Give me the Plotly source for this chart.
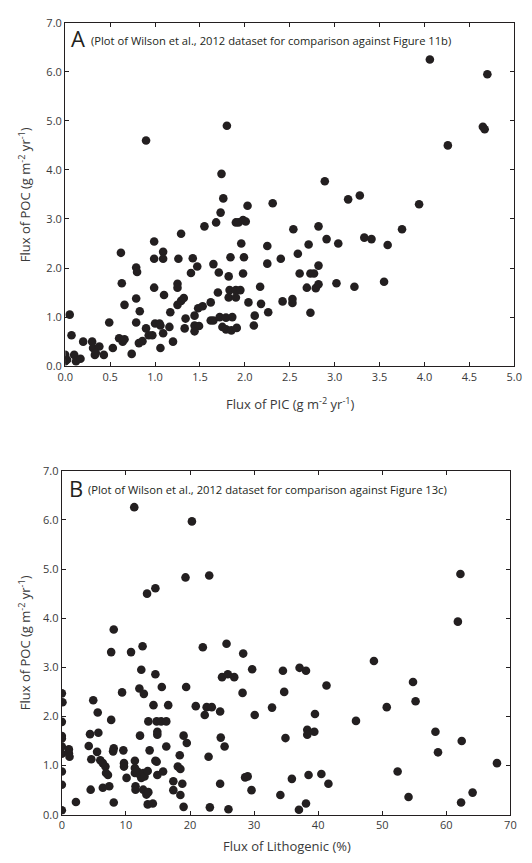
import plotly.graph_objects as go

# ---- Panel A data: Flux of PIC vs Flux of POC ----
pic_x = [0.05, 0.07, 0.0, 0.0, 0.02, 0.10, 0.12, 0.17, 0.20, 0.30, 0.31, 0.38, 0.33, 0.34, 0.43,
         0.53, 0.49, 0.74, 0.62, 0.63, 0.66, 0.60, 0.64, 0.66, 0.79, 0.80, 0.79, 0.83, 0.79, 0.82,
         0.86, 0.90, 0.93, 0.97, 0.90, 0.99, 0.99, 0.99, 1.00, 1.05, 1.06, 1.09, 1.09, 1.10, 1.06,
         1.09, 1.16, 1.17, 1.20, 1.29, 1.26, 1.25, 1.25, 1.25, 1.29, 1.32, 1.34, 1.33, 1.42, 1.47,
         1.40, 1.44, 1.48, 1.53, 1.44, 1.49, 1.44, 1.55, 1.62, 1.62, 1.65, 1.65, 1.68, 1.73, 1.74,
         1.76, 1.71, 1.70, 1.80, 1.72, 1.75, 1.79, 1.79, 1.82, 1.83, 1.82, 1.84, 1.86, 1.85, 1.90,
         1.90, 1.91, 1.90, 1.93, 1.95, 1.96, 1.98, 2.01, 1.99, 1.98, 2.03, 2.04, 2.11, 2.10, 2.17,
         2.18, 2.25, 2.25, 2.26, 2.31, 2.40, 2.42, 2.54, 2.53, 2.53, 2.59, 2.61, 2.71, 2.69, 2.73,
         2.77, 2.73, 2.82, 2.82, 2.79, 2.82, 2.89, 2.91, 3.04, 3.02, 3.15, 3.22, 3.28, 3.33, 3.41,
         3.55, 3.59, 3.75, 3.94, 4.06, 4.26, 4.65, 4.67, 4.70]
poc_a = [1.05, 0.63, 0.23, 0.10, 0.13, 0.23, 0.10, 0.15, 0.50, 0.50, 0.37, 0.40, 0.23, 0.27, 0.23,
         0.37, 0.89, 0.25, 2.31, 1.69, 1.25, 0.57, 0.50, 0.55, 2.01, 1.92, 1.38, 1.12, 0.89, 0.47,
         0.51, 0.77, 0.63, 0.63, 4.60, 2.54, 2.19, 1.60, 0.87, 0.87, 0.83, 2.33, 2.19, 1.45, 0.37,
         0.67, 0.80, 1.10, 0.50, 2.70, 2.19, 1.68, 1.60, 1.25, 1.33, 1.39, 0.97, 0.77, 2.20, 2.03,
         1.90, 1.03, 1.18, 1.22, 0.83, 0.82, 0.71, 2.85, 1.30, 0.93, 0.93, 2.08, 2.93, 3.13, 3.92,
         3.42, 1.91, 1.50, 4.90, 1.00, 0.80, 0.99, 0.75, 1.83, 1.55, 1.40, 2.22, 1.00, 0.73, 1.55,
         1.40, 0.78, 2.93, 2.93, 1.55, 2.50, 2.98, 2.95, 2.22, 1.89, 3.27, 1.30, 1.03, 0.83, 1.62,
         1.27, 2.45, 2.09, 1.10, 3.32, 2.19, 1.32, 2.79, 1.37, 1.29, 2.29, 1.89, 2.48, 1.60, 1.89,
         1.89, 1.09, 2.85, 2.05, 1.59, 1.67, 3.77, 2.59, 2.50, 1.69, 3.40, 1.62, 3.48, 2.62, 2.59,
         1.72, 2.47, 2.79, 3.30, 6.25, 4.50, 4.88, 4.83, 5.95]

# ---- Panel B data: Flux of Lithogenic (%) vs Flux of POC ----
litho_x = [0.0, 0.1, 0.0, 0.0, 0.0, 0.0, 0.0, 0.0, 0.0, 0.0, 1.1, 1.1, 1.2, 2.2, 4.2, 4.4, 4.6, 4.5,
           4.9, 5.6, 5.7, 5.5, 6.0, 6.4, 6.8, 6.9, 7.2, 6.4, 7.4, 7.7, 8.1, 7.7, 8.1, 8.0, 8.1, 9.4,
           9.6, 9.7, 9.7, 10.1, 10.8, 11.3, 11.4, 11.4, 11.4, 11.5, 11.5, 12.1, 12.2, 11.8, 12.2,
           12.4, 12.6, 12.4, 12.8, 12.7, 12.9, 12.7, 13.2, 13.3, 13.4, 13.5, 13.4, 13.5, 13.7, 14.6,
           14.6, 14.3, 14.2, 14.6, 14.8, 14.8, 14.9, 14.9, 14.9, 15.6, 15.5, 15.8, 16.3, 16.3, 16.6,
           17.4, 17.4, 18.1, 18.4, 18.5, 18.5, 18.8, 19.0, 19.0, 19.5, 19.3, 19.4, 20.3, 20.9, 22.0,
           22.3, 22.6, 23.4, 22.9, 23.0, 23.1, 24.7, 24.8, 24.7, 25.0, 25.4, 25.7, 25.9, 26.0, 26.9,
           28.2, 28.3, 28.6, 29.0, 29.7, 29.6, 30.1, 32.8, 34.1, 34.5, 34.7, 34.9, 35.9, 37.0, 37.1,
           38.1, 38.1, 38.3, 38.3, 38.5, 39.4, 39.5, 40.5, 41.3, 41.6, 45.9, 48.7, 50.7, 52.4, 54.1,
           54.8, 55.2, 58.3, 58.7, 61.8, 62.2, 62.4, 62.3, 64.1, 67.9]
poc_b = [2.47, 2.29, 1.89, 1.60, 1.55, 1.39, 1.24, 0.88, 0.61, 0.09, 1.33, 1.25, 1.18, 0.26, 1.40,
         1.64, 1.13, 0.51, 2.33, 2.08, 1.67, 1.28, 1.11, 1.05, 0.98, 0.85, 0.81, 0.55, 0.58, 3.31,
         3.77, 1.93, 1.35, 1.29, 0.25, 2.49, 1.31, 1.05, 0.98, 0.75, 3.31, 6.26, 1.10, 0.95, 0.85,
         0.58, 0.51, 2.57, 1.61, 0.88, 0.81, 0.75, 3.43, 2.95, 2.46, 0.85, 0.78, 0.51, 0.41, 4.50,
         0.89, 0.46, 0.21, 1.90, 1.31, 4.61, 2.86, 2.23, 0.23, 1.10, 1.08, 1.90, 1.69, 1.63, 0.81,
         2.60, 1.90, 0.88, 1.90, 1.39, 2.23, 0.68, 0.50, 0.98, 1.21, 0.93, 0.40, 0.63, 0.16, 1.61,
         1.46, 4.83, 2.60, 5.97, 2.21, 3.41, 2.03, 2.19, 2.19, 1.18, 4.87, 0.15, 2.10, 1.57, 0.63,
         2.80, 1.39, 3.48, 2.86, 0.11, 2.80, 2.48, 3.28, 0.76, 0.78, 2.96, 0.50, 2.03, 2.18, 0.40,
         2.93, 2.50, 1.56, 0.73, 0.10, 2.99, 2.93, 0.23, 1.73, 1.63, 0.81, 1.69, 2.05, 0.83, 2.63,
         0.63, 1.91, 3.13, 2.19, 0.88, 0.36, 2.70, 2.31, 1.69, 1.27, 3.93, 4.90, 1.50, 0.25, 0.45,
         1.05]

y_ticks = [0, 1, 2, 3, 4, 5, 6, 7]
y_ticklabels = ["0.0", "1.0", "2.0", "3.0", "4.0", "5.0", "6.0", "7.0"]
x_ticks_a = [0, 0.5, 1, 1.5, 2, 2.5, 3, 3.5, 4, 4.5, 5]
x_ticklabels_a = ["0.0", "0.5", "1.0", "1.5", "2.0", "2.5", "3.0", "3.5", "4.0", "4.5", "5.0"]
x_ticks_b = [0, 10, 20, 30, 40, 50, 60, 70]
x_ticklabels_b = ["0", "10", "20", "30", "40", "50", "60", "70"]

W, H = 532, 863
INK = "#231f20"
TXT = "#3a3a3a"
FONT = "Open Sans"


def px(x):
    return x / W


def py(y):
    return 1 - y / H


fig = go.Figure()
marker = dict(color=INK, size=8.6, line=dict(width=0))
fig.add_trace(go.Scatter(x=pic_x, y=poc_a, mode="markers", marker=marker,
                         xaxis="x", yaxis="y", showlegend=False))
fig.add_trace(go.Scatter(x=litho_x, y=poc_b, mode="markers", marker=marker,
                         xaxis="x2", yaxis="y2", showlegend=False))

axis_common = dict(showgrid=False, zeroline=False, showline=True, linecolor=INK, linewidth=1.4,
                   mirror="ticks", ticks="inside", ticklen=4, tickwidth=1, tickcolor=INK,
                   tickfont=dict(family=FONT, size=11, color=TXT))

fig.update_layout(
    width=W, height=H,
    margin=dict(l=0, r=0, t=0, b=0),
    paper_bgcolor="white", plot_bgcolor="white",
    font=dict(family=FONT, color=TXT),
    xaxis=dict(domain=[px(59), px(522)], range=[0, 5], tickvals=x_ticks_a,
               ticktext=x_ticklabels_a, anchor="y", **axis_common),
    yaxis=dict(domain=[py(364.5), py(15)], range=[0, 7], tickvals=y_ticks,
               ticktext=y_ticklabels, anchor="x", **axis_common),
    xaxis2=dict(domain=[px(55.5), px(518)], range=[0, 70], tickvals=x_ticks_b,
                ticktext=x_ticklabels_b, anchor="y2", **axis_common),
    yaxis2=dict(domain=[py(821), py(471)], range=[0, 7], tickvals=y_ticks,
                ticktext=y_ticklabels, anchor="x2", **axis_common),
)


def note(x, y, text, size, color=TXT, xanchor="center", angle=0):
    return dict(x=px(x), y=py(y), text=text, textangle=angle, showarrow=False,
                xref="paper", yref="paper", xanchor=xanchor, yanchor="middle",
                font=dict(family=FONT, size=size, color=color))


ylab = "Flux of POC (g m<sup>-2</sup> yr<sup>-1</sup>)"
ann = [
    note(17, 190, ylab, 13, angle=-90),
    note(17, 646, ylab, 13, angle=-90),
    note(291, 402, "Flux of PIC (g m<sup>-2</sup> yr<sup>-1</sup>)", 13),
    note(288, 853, "Flux of Lithogenic (%)", 13),
    note(63, 31, "A", 22, color=INK, xanchor="left"),
    note(84, 33.5, "(Plot of Wilson et al., 2012 dataset for comparison against Figure 11b)",
         11.2, color=INK, xanchor="left"),
    note(61, 488, "B", 22, color=INK, xanchor="left"),
    note(80, 490.5, "(Plot of Wilson et al., 2012 dataset for comparison against Figure 13c)",
         11.2, color=INK, xanchor="left"),
]
fig.update_layout(annotations=ann)

fig.write_html("out.html", config={"displayModeBar": False},
               post_script="document.body.style.margin='0';document.body.style.overflow='hidden';")
